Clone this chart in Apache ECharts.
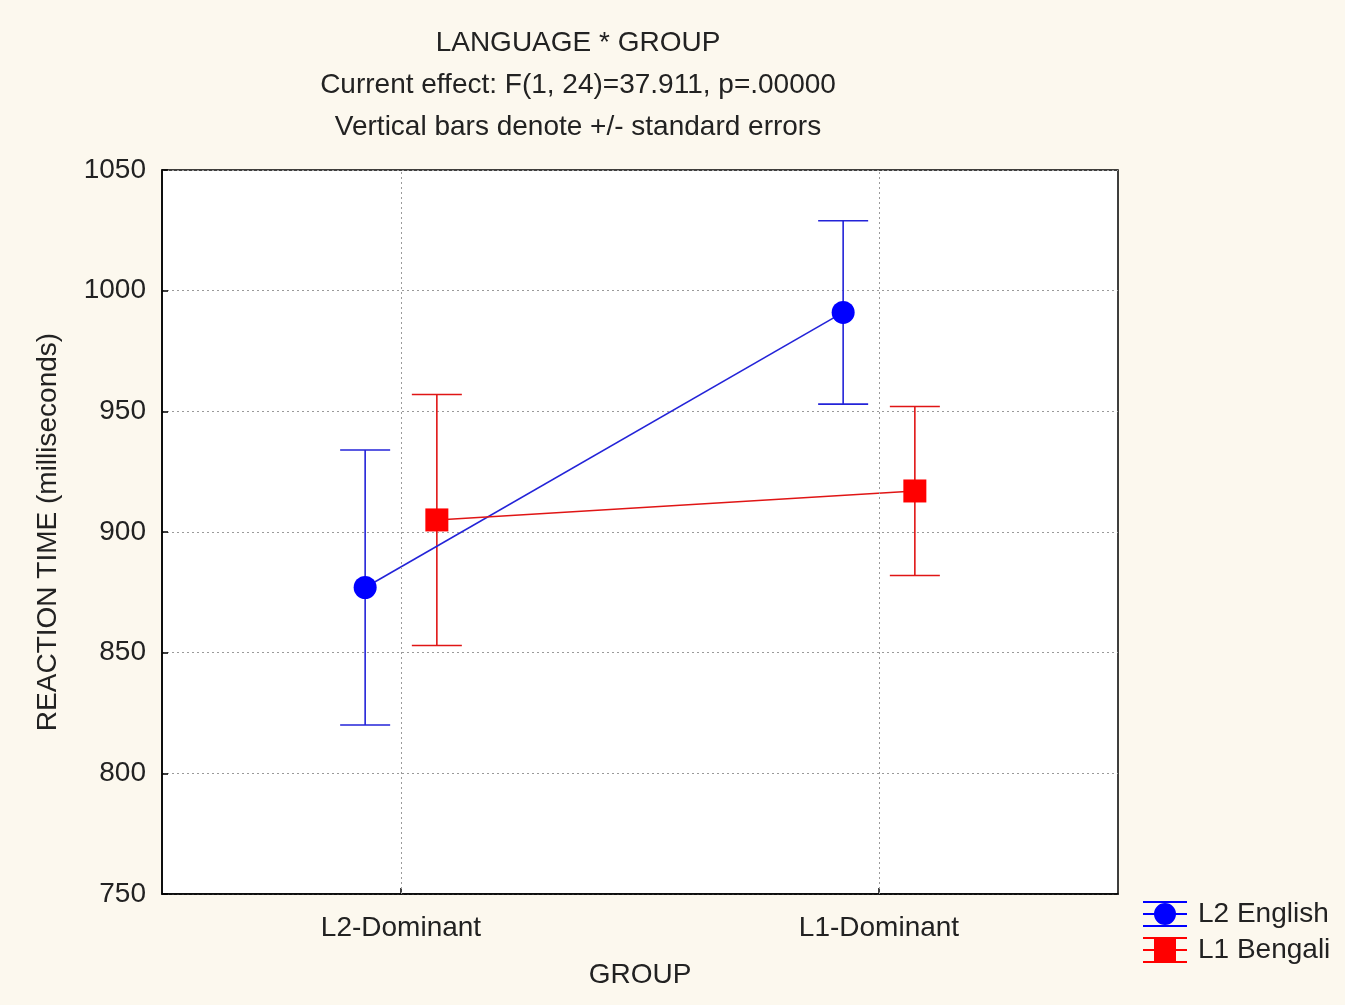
<!DOCTYPE html>
<html>
<head>
<meta charset="utf-8">
<title>LANGUAGE * GROUP</title>
<script src="https://cdn.jsdelivr.net/npm/echarts@6/dist/echarts.min.js"></script>
<style>
  html, body { margin: 0; padding: 0; background: #fcf8ee; }
  #chart { width: 1345px; height: 1005px; }
</style>
</head>
<body>
<div id="chart"></div>
<script>
// Group categories on the x axis
const groups = ['L2-Dominant', 'L1-Dominant'];

// Mean reaction time (ms) and standard error per group
const englishMean = [877, 991];
const englishSE = [57, 38];
const bengaliMean = [905, 917];
const bengaliSE = [52, 35];

// Y axis ticks
const yTicks = [750, 800, 850, 900, 950, 1000, 1050];

const titleLines = [
  'LANGUAGE * GROUP',
  'Current effect: F(1, 24)=37.911, p=.00000',
  'Vertical bars denote +/- standard errors'
];

const FONT = '"Liberation Sans", Arial, sans-serif';
const FS = 28;
const BLUE = '#0000ff';
const BLUE_LINE = '#2323d8';
const RED = '#ff0000';
const RED_LINE = '#e01515';
// horizontal dodge of the two series around each group position
const DODGE = 0.075;

function points(means, shift) {
  return means.map((m, i) => [i + shift, m]);
}
function bars(means, ses, shift) {
  return means.map((m, i) => [i + shift, m - ses[i], m + ses[i]]);
}

function errorBarSeries(name, data, color) {
  return {
    name: name,
    type: 'custom',
    silent: true,
    z: 2,
    data: data,
    encode: { x: 0, y: [1, 2] },
    renderItem: function (params, api) {
      const lo = api.coord([api.value(0), api.value(1)]);
      const hi = api.coord([api.value(0), api.value(2)]);
      const half = 25;
      const style = { stroke: color, lineWidth: 1.6 };
      return {
        type: 'group',
        children: [
          { type: 'line', shape: { x1: lo[0], y1: lo[1], x2: hi[0], y2: hi[1] }, style: style },
          { type: 'line', shape: { x1: hi[0] - half, y1: hi[1], x2: hi[0] + half, y2: hi[1] }, style: style },
          { type: 'line', shape: { x1: lo[0] - half, y1: lo[1], x2: lo[0] + half, y2: lo[1] }, style: style }
        ]
      };
    }
  };
}

// Legend glyphs: error bar with marker
const iconEnglish = 'path://M0,0H44V2H0Z M0,12H44V14H0Z M0,24H44V26H0Z M11,13A11,11 0 1 1 33,13A11,11 0 1 1 11,13Z';
const iconBengali = 'path://M0,0H44V2H0Z M0,12H44V14H0Z M0,24H44V26H0Z M11,1H33V25H11Z';

const chart = echarts.init(document.getElementById('chart'));

chart.setOption({
  backgroundColor: '#fcf8ee',
  animation: false,
  textStyle: { fontFamily: FONT },
  graphic: titleLines.map((t, i) => ({
    type: 'text',
    x: 578,
    y: 43 + i * 42,
    style: {
      text: t,
      fill: '#222',
      font: FS + 'px ' + FONT,
      textAlign: 'center',
      textVerticalAlign: 'middle'
    }
  })),
  legend: {
    orient: 'vertical',
    left: 1143,
    top: 900,
    padding: 0,
    itemWidth: 44,
    itemHeight: 26,
    itemGap: 8,
    selectedMode: false,
    textStyle: { fontSize: FS, color: '#222', fontFamily: FONT, padding: [0, 0, 0, 6] },
    data: [
      { name: 'L2 English', icon: iconEnglish },
      { name: 'L1 Bengali', icon: iconBengali }
    ]
  },
  grid: {
    left: 162,
    top: 170,
    width: 956,
    height: 724,
    show: true,
    backgroundColor: '#ffffff',
    borderColor: '#000',
    borderWidth: 1.5
  },
  xAxis: {
    type: 'value',
    min: -0.5,
    max: 1.5,
    name: 'GROUP',
    nameLocation: 'middle',
    nameGap: 67,
    nameTextStyle: { fontSize: FS, color: '#222', fontFamily: FONT },
    axisLine: { show: true, onZero: false, lineStyle: { color: '#000', width: 1.5 } },
    axisTick: { show: true, inside: true, length: 6, customValues: [0, 1], lineStyle: { color: '#000', width: 1.5 } },
    axisLabel: {
      customValues: [0, 1],
      fontSize: FS,
      color: '#222',
      margin: 20,
      formatter: v => groups[Math.round(v)]
    },
    splitLine: { show: false }
  },
  yAxis: {
    type: 'value',
    min: yTicks[0],
    max: yTicks[yTicks.length - 1],
    interval: yTicks[1] - yTicks[0],
    name: 'REACTION TIME (milliseconds)',
    nameLocation: 'middle',
    nameGap: 100,
    nameTextStyle: { fontSize: FS, color: '#222', fontFamily: FONT },
    axisLine: { show: true, onZero: false, lineStyle: { color: '#000', width: 1.5 } },
    axisTick: { show: true, inside: true, length: 6, lineStyle: { color: '#000', width: 1.5 } },
    axisLabel: { fontSize: FS, color: '#222', margin: 16, formatter: v => String(v) },
    splitLine: { show: true, lineStyle: { color: '#9a9a9a', type: [2, 3], width: 1 } }
  },
  series: [
    {
      name: 'group-lines',
      type: 'line',
      data: [],
      silent: true,
      markLine: {
        silent: true,
        symbol: ['none', 'none'],
        label: { show: false },
        lineStyle: { color: '#9a9a9a', type: [2, 3], width: 1 },
        data: groups.map((g, i) => ({ xAxis: i }))
      }
    },
    errorBarSeries('english-se', bars(englishMean, englishSE, -DODGE), BLUE_LINE),
    errorBarSeries('bengali-se', bars(bengaliMean, bengaliSE, DODGE), RED_LINE),
    {
      name: 'L2 English',
      type: 'line',
      z: 3,
      data: points(englishMean, -DODGE),
      symbol: 'circle',
      symbolSize: 23,
      itemStyle: { color: BLUE },
      lineStyle: { color: BLUE_LINE, width: 1.6 }
    },
    {
      name: 'L1 Bengali',
      type: 'line',
      z: 3,
      data: points(bengaliMean, DODGE),
      symbol: 'rect',
      symbolSize: 23,
      itemStyle: { color: RED },
      lineStyle: { color: RED_LINE, width: 1.6 }
    }
  ]
});
</script>
</body>
</html>
